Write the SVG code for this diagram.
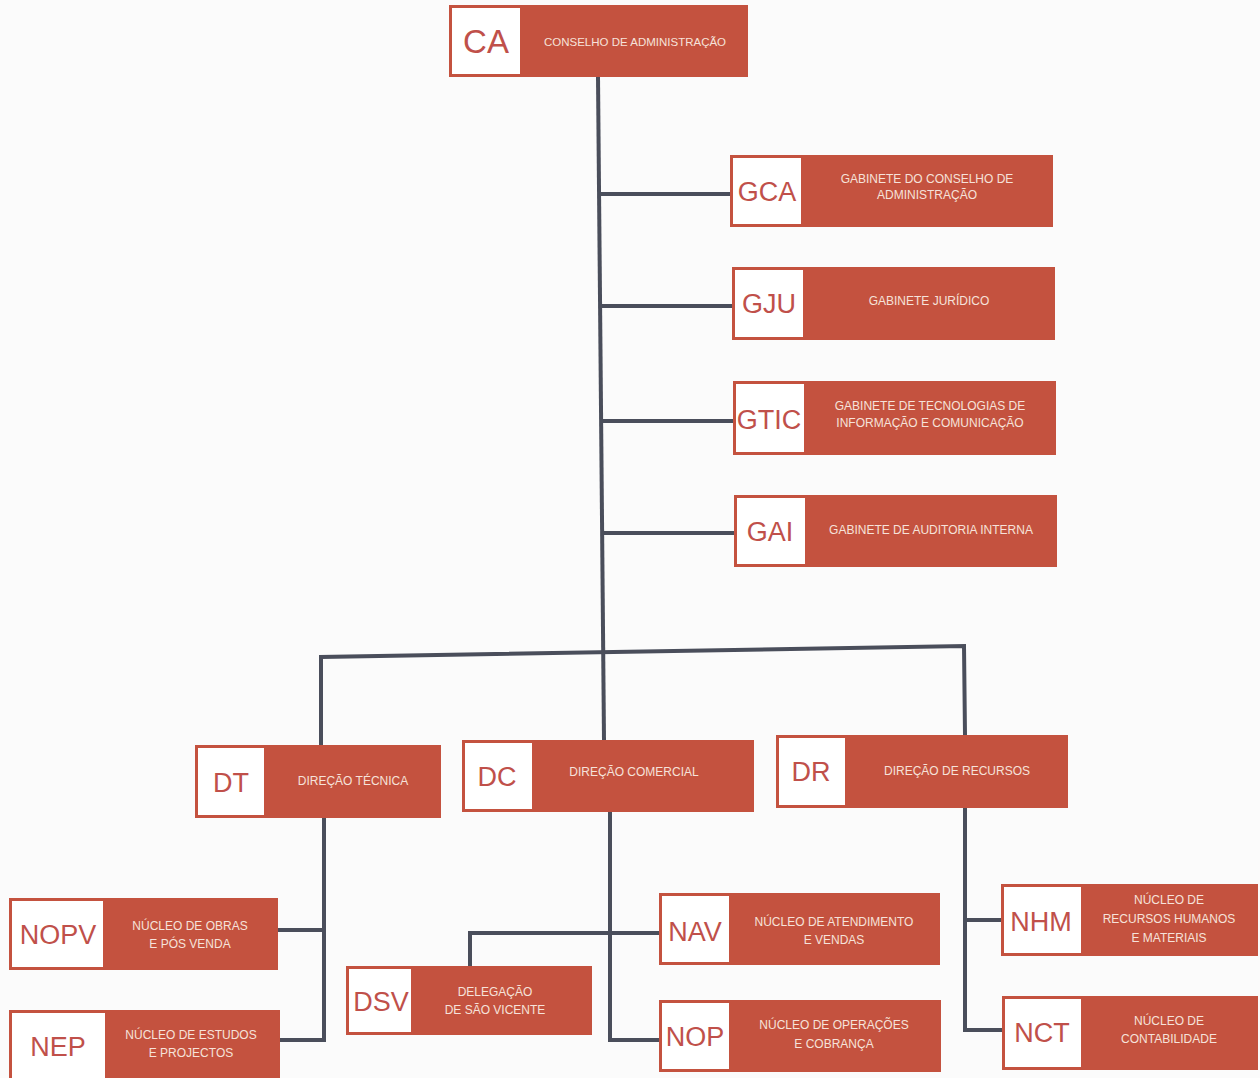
<svg xmlns="http://www.w3.org/2000/svg" width="1260" height="1078" viewBox="0 0 1260 1078">
<style>
.red{fill:#c4523f;}
.wh{fill:#ffffff;stroke:#c4523f;stroke-width:2;}
.ab{font-family:"Liberation Sans",Arial,sans-serif;font-size:27px;fill:#c0504a;text-anchor:middle;}
.lb{font-family:"Liberation Sans",Arial,sans-serif;font-size:12px;fill:#f6e2da;text-anchor:middle;}
.cn{fill:none;stroke:#4a4e5b;stroke-width:4;stroke-linejoin:miter;}
</style>
<rect width="1260" height="1078" fill="#fbfbfb"/>
<g id="connectors">
<path class="cn" d="M598,77 L604,740"/>
<path class="cn" d="M600,194 H730"/>
<path class="cn" d="M601,306 H732"/>
<path class="cn" d="M602,421 H733"/>
<path class="cn" d="M603,533 H734"/>
<path class="cn" d="M321,745 L321,657 L964,646 L965,735"/>
<path class="cn" d="M324,818 V1040 H280"/>
<path class="cn" d="M278,930 H324"/>
<path class="cn" d="M610,812 V1040 H659"/>
<path class="cn" d="M470,966 V933 H659"/>
<path class="cn" d="M965,808 V1030 H1002"/>
<path class="cn" d="M965,920 H1001"/>
</g>
<g id="CA">
<rect class="red" x="449" y="5" width="299" height="72"/>
<rect class="wh" x="451" y="7" width="70" height="68"/>
<text class="ab" x="486" y="53" style="font-size:33px">CA</text>
<text class="lb" x="635" y="46" style="font-size:11.5px">CONSELHO DE ADMINISTRAÇÃO</text>
</g>
<g id="GCA">
<rect class="red" x="730" y="155" width="323" height="72"/>
<rect class="wh" x="732" y="157" width="70" height="68"/>
<text class="ab" x="767" y="201">GCA</text>
<text class="lb" x="927" y="183">GABINETE DO CONSELHO DE</text>
<text class="lb" x="927" y="199">ADMINISTRAÇÃO</text>
</g>
<g id="GJU">
<rect class="red" x="732" y="267" width="323" height="73"/>
<rect class="wh" x="734" y="269" width="70" height="69"/>
<text class="ab" x="769" y="313">GJU</text>
<text class="lb" x="929" y="305">GABINETE JURÍDICO</text>
</g>
<g id="GTIC">
<rect class="red" x="733" y="381" width="323" height="74"/>
<rect class="wh" x="735" y="383" width="70" height="70"/>
<text class="ab" x="769" y="429">GTIC</text>
<text class="lb" x="930" y="410">GABINETE DE TECNOLOGIAS DE</text>
<text class="lb" x="930" y="427">INFORMAÇÃO E COMUNICAÇÃO</text>
</g>
<g id="GAI">
<rect class="red" x="734" y="495" width="323" height="72"/>
<rect class="wh" x="736" y="497" width="70" height="68"/>
<text class="ab" x="770" y="541">GAI</text>
<text class="lb" x="931" y="534">GABINETE DE AUDITORIA INTERNA</text>
</g>
<g id="DT">
<rect class="red" x="195" y="745" width="246" height="73"/>
<rect class="wh" x="197" y="747" width="68" height="69"/>
<text class="ab" x="231" y="792">DT</text>
<text class="lb" x="353" y="785">DIREÇÃO TÉCNICA</text>
</g>
<g id="DC">
<rect class="red" x="462" y="740" width="292" height="72"/>
<rect class="wh" x="464" y="742" width="69" height="68"/>
<text class="ab" x="497" y="786">DC</text>
<text class="lb" x="634" y="776">DIREÇÃO COMERCIAL</text>
</g>
<g id="DR">
<rect class="red" x="776" y="735" width="292" height="73"/>
<rect class="wh" x="778" y="737" width="68" height="69"/>
<text class="ab" x="811" y="781">DR</text>
<text class="lb" x="957" y="775">DIREÇÃO DE RECURSOS</text>
</g>
<g id="NOPV">
<rect class="red" x="9" y="898" width="269" height="72"/>
<rect class="wh" x="11" y="900" width="93" height="68"/>
<text class="ab" x="58" y="944">NOPV</text>
<text class="lb" x="190" y="930">NÚCLEO DE OBRAS</text>
<text class="lb" x="190" y="948">E PÓS VENDA</text>
</g>
<g id="NEP">
<rect class="red" x="9" y="1010" width="271" height="72"/>
<rect class="wh" x="11" y="1012" width="95" height="70"/>
<text class="ab" x="58" y="1056">NEP</text>
<text class="lb" x="191" y="1039">NÚCLEO DE ESTUDOS</text>
<text class="lb" x="191" y="1057">E PROJECTOS</text>
</g>
<g id="DSV">
<rect class="red" x="346" y="966" width="246" height="69"/>
<rect class="wh" x="348" y="968" width="64" height="65"/>
<text class="ab" x="381" y="1011">DSV</text>
<text class="lb" x="495" y="996">DELEGAÇÃO</text>
<text class="lb" x="495" y="1014">DE SÃO VICENTE</text>
</g>
<g id="NAV">
<rect class="red" x="659" y="893" width="281" height="72"/>
<rect class="wh" x="661" y="895" width="69" height="68"/>
<text class="ab" x="695" y="941">NAV</text>
<text class="lb" x="834" y="926">NÚCLEO DE ATENDIMENTO</text>
<text class="lb" x="834" y="944">E VENDAS</text>
</g>
<g id="NOP">
<rect class="red" x="659" y="1000" width="282" height="72"/>
<rect class="wh" x="661" y="1002" width="69" height="68"/>
<text class="ab" x="695" y="1046">NOP</text>
<text class="lb" x="834" y="1029">NÚCLEO DE OPERAÇÕES</text>
<text class="lb" x="834" y="1048">E COBRANÇA</text>
</g>
<g id="NHM">
<rect class="red" x="1001" y="884" width="257" height="72"/>
<rect class="wh" x="1003" y="886" width="79" height="68"/>
<text class="ab" x="1041" y="931">NHM</text>
<text class="lb" x="1169" y="904">NÚCLEO DE</text>
<text class="lb" x="1169" y="923">RECURSOS HUMANOS</text>
<text class="lb" x="1169" y="942">E MATERIAIS</text>
</g>
<g id="NCT">
<rect class="red" x="1002" y="996" width="256" height="74"/>
<rect class="wh" x="1004" y="998" width="78" height="70"/>
<text class="ab" x="1042" y="1042">NCT</text>
<text class="lb" x="1169" y="1025">NÚCLEO DE</text>
<text class="lb" x="1169" y="1043">CONTABILIDADE</text>
</g>
</svg>
